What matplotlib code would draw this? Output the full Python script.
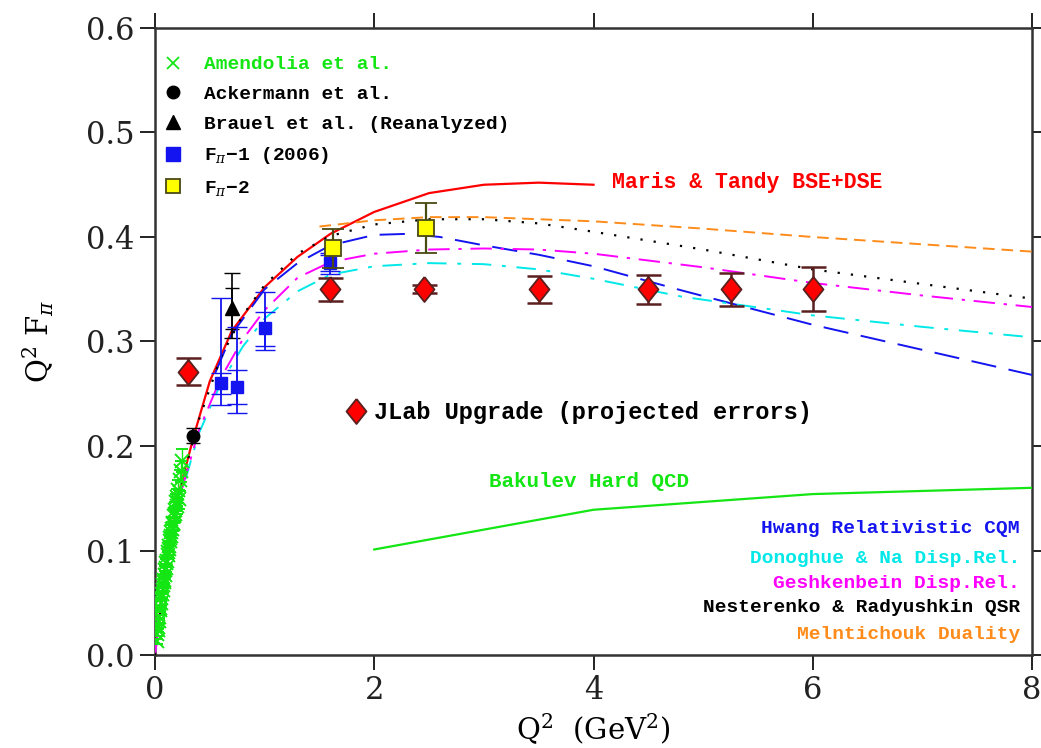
import numpy as np
import matplotlib
matplotlib.use("Agg")
import matplotlib.pyplot as plt
from matplotlib.lines import Line2D

# Datos

# Amendolia et al.
am_q2 = [0.015, 0.020, 0.025, 0.030, 0.035, 0.039, 0.044, 0.049, 0.054, 0.059,
         0.064, 0.069, 0.074, 0.079, 0.084, 0.089, 0.094, 0.099, 0.104, 0.109,
         0.114, 0.119, 0.124, 0.129, 0.134, 0.139, 0.144, 0.149, 0.154, 0.160,
         0.166, 0.172, 0.178, 0.184, 0.190, 0.197, 0.204, 0.212, 0.220, 0.229,
         0.238, 0.247]
am_val = [0.013, 0.020, 0.024, 0.027, 0.033, 0.036, 0.043, 0.045, 0.050, 0.055,
          0.058, 0.062, 0.067, 0.070, 0.072, 0.077, 0.081, 0.083, 0.088, 0.090,
          0.096, 0.099, 0.101, 0.104, 0.109, 0.112, 0.114, 0.118, 0.121, 0.126,
          0.125, 0.133, 0.139, 0.135, 0.146, 0.143, 0.151, 0.158, 0.149, 0.167,
          0.176, 0.186]
am_err = [0.002, 0.002, 0.002, 0.002, 0.002, 0.002, 0.002, 0.002, 0.003, 0.003,
          0.003, 0.003, 0.003, 0.003, 0.003, 0.003, 0.004, 0.004, 0.004, 0.004,
          0.004, 0.004, 0.005, 0.005, 0.005, 0.005, 0.005, 0.006, 0.006, 0.006,
          0.006, 0.007, 0.007, 0.007, 0.008, 0.008, 0.008, 0.009, 0.009, 0.010,
          0.010, 0.011]

# Ackermann et al.
ack_q2 = [0.35]
ack_val = [0.21]
ack_err = [0.007]

# Brauel et al. (reanalizado)
br_q2 = [0.70]
br_val = [0.332]
br_in_lo, br_in_hi = [0.020], [0.019]
br_out_lo, br_out_hi = [0.029], [0.034]

# F_pi-1 (2006)
f1_q2 = [0.60, 0.75, 1.00, 1.60]
f1_val = [0.260, 0.256, 0.313, 0.375]
f1_in_lo = [0.010, 0.016, 0.017, 0.008]
f1_in_hi = [0.010, 0.017, 0.015, 0.008]
f1_out_lo = [0.021, 0.024, 0.021, 0.010]
f1_out_hi = [0.082, 0.058, 0.034, 0.010]

# F_pi-2
f2_q2 = [1.62, 2.47]
f2_val = [0.389, 0.409]
f2_err = [0.019, 0.024]

# JLab Upgrade (errores proyectados)
jl_q2 = [0.30, 1.60, 2.45, 3.50, 4.50, 5.25, 6.00]
jl_val = [0.271, 0.350, 0.350, 0.350, 0.350, 0.350, 0.350]
jl_err = [0.013, 0.011, 0.004, 0.013, 0.014, 0.016, 0.021]

# Curvas teoricas
mt_q2 = [0.0, 0.05, 0.10, 0.20, 0.36, 0.50, 0.70, 1.00, 1.30, 1.60, 2.00, 2.50, 3.00, 3.50, 4.00]
mt_val = [0.0, 0.045, 0.085, 0.148, 0.212, 0.262, 0.310, 0.352, 0.381, 0.403, 0.424, 0.442, 0.450, 0.452, 0.450]

hw_q2 = [0.55, 0.70, 1.00, 1.30, 1.60, 2.00, 2.30, 2.60, 3.00, 3.50, 4.00, 4.80, 6.00, 7.00, 8.00]
hw_val = [0.270, 0.307, 0.350, 0.375, 0.392, 0.402, 0.403, 0.400, 0.392, 0.383, 0.372, 0.349, 0.316, 0.292, 0.268]

dn_q2 = [0.0, 0.05, 0.10, 0.20, 0.40, 0.60, 0.80, 1.00, 1.30, 1.60, 2.00, 2.50, 3.00, 3.50, 4.00, 4.80, 6.00, 7.00, 8.00]
dn_val = [0.0, 0.044, 0.082, 0.140, 0.212, 0.260, 0.295, 0.322, 0.348, 0.364, 0.372, 0.375, 0.374, 0.369, 0.360, 0.343, 0.325, 0.314, 0.304]

ge_q2 = [0.0, 0.05, 0.10, 0.20, 0.40, 0.60, 0.80, 1.00, 1.30, 1.60, 2.00, 2.50, 3.00, 3.50, 4.00, 5.00, 6.00, 7.00, 8.00]
ge_val = [0.0, 0.044, 0.083, 0.142, 0.215, 0.265, 0.302, 0.330, 0.361, 0.376, 0.384, 0.388, 0.389, 0.388, 0.384, 0.371, 0.356, 0.344, 0.333]

nr_q2 = [0.0, 0.10, 0.20, 0.40, 0.60, 0.80, 1.00, 1.30, 1.60, 2.00, 2.50, 3.00, 3.50, 4.00, 5.00, 6.00, 7.00, 8.00]
nr_val = [0.0, 0.085, 0.148, 0.225, 0.285, 0.325, 0.354, 0.384, 0.401, 0.412, 0.417, 0.417, 0.413, 0.405, 0.388, 0.369, 0.355, 0.341]

me_q2 = [1.50, 2.00, 2.50, 3.00, 4.00, 5.00, 6.00, 7.00, 8.00]
me_val = [0.410, 0.416, 0.419, 0.419, 0.415, 0.408, 0.400, 0.393, 0.386]

bk_q2 = [2.0, 4.0, 6.0, 8.0]
bk_val = [0.101, 0.139, 0.154, 0.160]

# Colores
verde = "#14e614"
azul = "#1414f0"
cian = "#00e8e8"
magenta = "#ff00ff"
naranja = "#ff8c1a"
oliva = "#4a4a14"
marron = "#5a2020"

# rombo algo mas alto que ancho, como en la figura original
rombo = [(0, 1), (0.8, 0), (0, -1), (-0.8, 0), (0, 1)]

mono = ["Liberation Mono", "DejaVu Sans Mono"]
plt.rcParams["font.family"] = ["DejaVu Serif"]
plt.rcParams["mathtext.fontset"] = "dejavuserif"

fig = plt.figure(figsize=(10.41, 7.48), dpi=100)
ax = fig.add_axes([0.1489, 0.1243, 0.8425, 0.8383])

# Curvas
ax.plot(mt_q2, mt_val, color="red", lw=1.6, zorder=3)
ax.plot(hw_q2, hw_val, color=azul, lw=1.4, ls=(0, (13, 6.5)), zorder=3)
ax.plot(dn_q2, dn_val, color=cian, lw=1.4, ls=(0, (10, 5.5, 2, 5.5)), zorder=3)
ax.plot(ge_q2, ge_val, color=magenta, lw=1.4, ls=(0, (11, 4.5, 1.7, 4.5)), zorder=3)
ax.plot(nr_q2, nr_val, color="black", lw=1.6, ls=(0, (1, 5)), zorder=3)
ax.plot(me_q2, me_val, color=naranja, lw=1.4, ls=(0, (6, 3.5)), zorder=3)
ax.plot(bk_q2, bk_val, color=verde, lw=1.6, zorder=3)

# Datos
ax.errorbar(am_q2, am_val, yerr=am_err, fmt="x", color=verde, ms=10, mew=1.4,
            elinewidth=1.0, capsize=4, zorder=4)
ax.errorbar(ack_q2, ack_val, yerr=ack_err, fmt="o", color="black", ms=9,
            elinewidth=1.2, capsize=5, zorder=5)
ax.errorbar(br_q2, br_val, yerr=[br_out_lo, br_out_hi], fmt="none", ecolor="black",
            elinewidth=1.2, capsize=6, zorder=5)
ax.errorbar(br_q2, br_val, yerr=[br_in_lo, br_in_hi], fmt="^", color="black", ms=10,
            elinewidth=1.2, capsize=5, zorder=5)
ax.errorbar(f1_q2, f1_val, yerr=[f1_out_lo, f1_out_hi], fmt="none", ecolor=azul,
            elinewidth=1.3, capsize=7, zorder=5)
ax.errorbar(f1_q2, f1_val, yerr=[f1_in_lo, f1_in_hi], fmt="s", color=azul, ms=9,
            elinewidth=1.3, capsize=7, zorder=5)
ax.errorbar(f2_q2, f2_val, yerr=f2_err, fmt="s", mfc="yellow", mec=oliva, ms=11,
            mew=1.3, ecolor=oliva, elinewidth=1.6, capsize=8, zorder=6)
ax.errorbar(jl_q2, jl_val, yerr=jl_err, fmt="none", ecolor=marron,
            elinewidth=1.8, capsize=9, capthick=1.8, zorder=6)
ax.plot(jl_q2, jl_val, ls="none", marker=rombo, mfc="red", mec=marron, ms=18,
        mew=1.3, zorder=7)

# Etiquetas de las curvas
ax.text(4.17, 0.4526, "Maris & Tandy BSE+DSE", color="red", family=mono,
        fontweight="bold", fontsize=15.5, va="center")
ax.text(3.05, 0.1656, "Bakulev Hard QCD", color=verde, family=mono,
        fontweight="bold", fontsize=15, va="center")
modelos = ["Hwang Relativistic CQM", "Donoghue & Na Disp.Rel.",
           "Geshkenbein Disp.Rel.", "Nesterenko & Radyushkin QSR",
           "Melntichouk Duality"]
colores = [azul, cian, magenta, "black", naranja]
alturas = [0.1215, 0.0925, 0.0685, 0.045, 0.020]
for m, c, h in zip(modelos, colores, alturas):
    ax.text(7.89, h, m, color=c, family=mono, fontweight="bold",
            fontsize=14, va="center", ha="right")

# Leyenda de datos
h1 = [Line2D([], [], ls="none", marker="x", color=verde, ms=9, mew=1.3),
      Line2D([], [], ls="none", marker="o", color="black", ms=9),
      Line2D([], [], ls="none", marker="^", color="black", ms=10),
      Line2D([], [], ls="none", marker="s", color=azul, ms=10),
      Line2D([], [], ls="none", marker="s", mfc="yellow", mec=oliva, mew=1.3, ms=10)]
l1 = ["Amendolia et al.", "Ackermann et al.", "Brauel et al. (Reanalyzed)",
      "F$_\\pi$\u22121 (2006)", "F$_\\pi$\u22122"]
leg = ax.legend(h1, l1, loc="upper left", bbox_to_anchor=(0.003, 0.968),
                frameon=False, handlelength=0.8, handletextpad=1.2,
                labelspacing=0.63, borderaxespad=0,
                prop={"family": mono, "weight": "bold", "size": 14})
leg.get_texts()[0].set_color(verde)
ax.add_artist(leg)

h2 = [Line2D([], [], ls="none", marker=rombo, mfc="red", mec=marron, mew=1.3, ms=18)]
leg2 = ax.legend(h2, ["JLab Upgrade (projected errors)"], loc="center left",
                 bbox_to_anchor=(0.208, 0.3866), frameon=False, handlelength=0.8,
                 handletextpad=0.35, borderaxespad=0,
                 prop={"family": mono, "weight": "bold", "size": 17})

# Ejes
ax.set_xlim(0, 8)
ax.set_ylim(0, 0.6)
ax.set_xticks([0, 2, 4, 6, 8])
ax.set_yticks([0.0, 0.1, 0.2, 0.3, 0.4, 0.5, 0.6])
ax.set_yticklabels(["0.0", "0.1", "0.2", "0.3", "0.4", "0.5", "0.6"])
ax.tick_params(direction="out", length=11, width=1.4, labelsize=22,
               top=True, right=True, colors="#222222")
for s in ax.spines.values():
    s.set_linewidth(1.8)
    s.set_color("#333333")

ax.set_xlabel("Q$^2$  (GeV$^2$)", fontsize=21, labelpad=4)
ax.set_ylabel("Q$^2$ F$_\\pi$", fontsize=21, labelpad=22)

plt.savefig("out.png", dpi=100)
